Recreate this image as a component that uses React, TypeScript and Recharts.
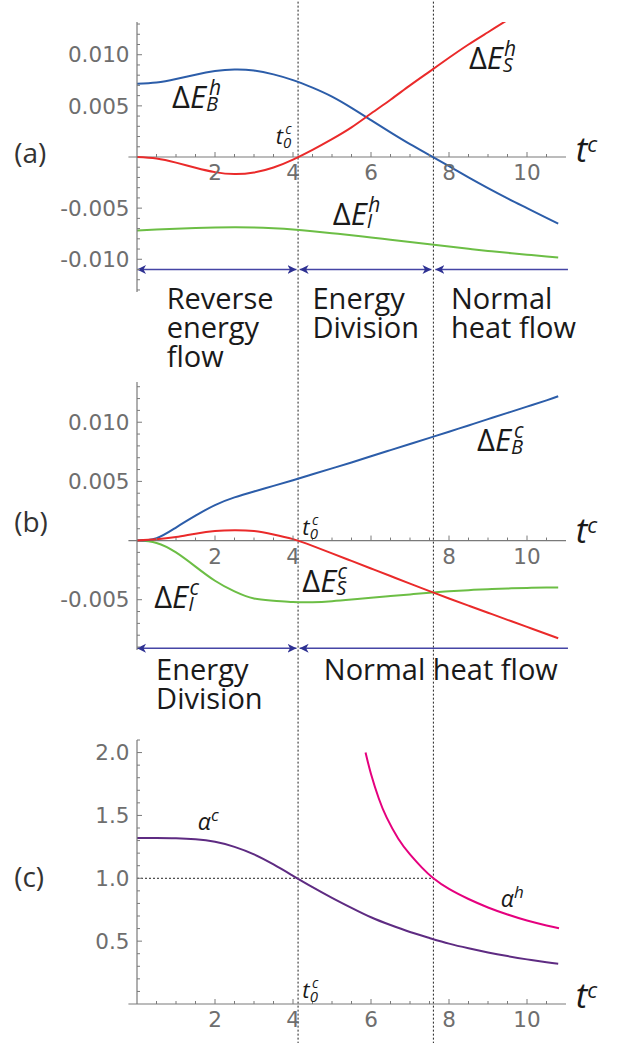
import React from 'react';
import { LineChart, Line, XAxis, YAxis, ReferenceLine, ReferenceDot } from 'recharts';

// shared time samples (t^c)
const tGrid = [0, 0.5, 1, 1.5, 2, 2.5, 3, 3.5, 4, 4.5, 5, 5.5, 6, 6.5, 7, 7.5, 8, 8.5, 9, 9.5, 10, 10.5, 10.8];

// (a) hot-side energy changes
const aEB = [0.00716, 0.00728, 0.00762, 0.00805, 0.0084, 0.00856, 0.00846, 0.00808, 0.00752, 0.00678, 0.0059, 0.0048, 0.0036, 0.0024, 0.00125, 0.00018, -0.0009, -0.002, -0.00305, -0.00405, -0.005, -0.00595, -0.00652];
const aES = [0, -0.00015, -0.00055, -0.00105, -0.00148, -0.00167, -0.00152, -0.00103, -0.00025, 0.0007, 0.00175, 0.0029, 0.00425, 0.0056, 0.007, 0.00835, 0.0097, 0.011, 0.0122, 0.0134, 0.0146, 0.0158, 0.0165];
const aEI = [-0.0072, -0.0071, -0.00702, -0.00695, -0.0069, -0.00688, -0.0069, -0.00697, -0.00708, -0.00725, -0.00745, -0.00765, -0.00787, -0.00808, -0.0083, -0.00853, -0.00876, -0.00897, -0.00918, -0.00937, -0.00955, -0.00972, -0.00982];

// (b) cold-side energy changes
const bEB = [0, 0.0002, 0.0011, 0.0021, 0.003, 0.00365, 0.00415, 0.00462, 0.0051, 0.0056, 0.0061, 0.0066, 0.00712, 0.00764, 0.00816, 0.00868, 0.0092, 0.00973, 0.01026, 0.01079, 0.01132, 0.01185, 0.0122];
const bES = [0, 0.0001, 0.0003, 0.00058, 0.0008, 0.00087, 0.0008, 0.00052, 0.00012, -0.00045, -0.00108, -0.00172, -0.00236, -0.003, -0.00364, -0.00427, -0.0049, -0.0055, -0.0061, -0.0067, -0.0073, -0.0079, -0.00826];
const bEI = [0, -0.0002, -0.001, -0.0022, -0.0034, -0.0043, -0.0049, -0.00508, -0.0052, -0.00521, -0.00512, -0.00498, -0.00483, -0.00469, -0.00455, -0.00441, -0.00429, -0.00419, -0.00411, -0.00405, -0.004, -0.00397, -0.00396];

// (c) alpha
const cAlphaC = [1.32, 1.32, 1.318, 1.31, 1.29, 1.25, 1.19, 1.11, 1.02, 0.93, 0.845, 0.765, 0.69, 0.628, 0.573, 0.525, 0.48, 0.443, 0.41, 0.381, 0.355, 0.332, 0.32];
const tAlphaH = [5.86, 6, 6.2, 6.4, 6.7, 7, 7.3, 7.6, 8, 8.5, 9, 9.5, 10, 10.5, 10.82];
const cAlphaH = [2.0, 1.83, 1.635, 1.485, 1.315, 1.19, 1.087, 1.0, 0.915, 0.835, 0.768, 0.712, 0.664, 0.625, 0.603];

// marker times
const t0c = 4.13;
const t0h = 7.6;

// axis ticks
const xMinor = [0.5, 1, 1.5, 2, 2.5, 3, 3.5, 4, 4.5, 5, 5.5, 6, 6.5, 7, 7.5, 8, 8.5, 9, 9.5, 10, 10.5];
const xMajor = [2, 4, 6, 8, 10];
const xLabelsA = ['2', '4', '6', '8', '10'];
const xLabelsB = ['2', '4', '', '8', '10'];
const xLabelsC = ['2', '4', '6', '8', '10'];
const yTicksA = [-0.013, -0.012, -0.011, -0.01, -0.009, -0.008, -0.007, -0.006, -0.005, -0.004, -0.003, -0.002, -0.001, 0.001, 0.002, 0.003, 0.004, 0.005, 0.006, 0.007, 0.008, 0.009, 0.01, 0.011, 0.012, 0.013];
const yTicksB = [-0.009, -0.008, -0.007, -0.006, -0.005, -0.004, -0.003, -0.002, -0.001, 0.001, 0.002, 0.003, 0.004, 0.005, 0.006, 0.007, 0.008, 0.009, 0.01, 0.011, 0.012, 0.013];
const yTicksC = [0.1, 0.2, 0.3, 0.4, 0.5, 0.6, 0.7, 0.8, 0.9, 1.0, 1.1, 1.2, 1.3, 1.4, 1.5, 1.6, 1.7, 1.8, 1.9, 2.0, 2.1];
const yLabelsAB = [-0.01, -0.005, 0.005, 0.01];
const yLabelsC = [0.5, 1.0, 1.5, 2.0];

const zip = (ts: number[], vs: number[]) => ts.map((t, i) => ({ t, v: vs[i] }));

const AXIS = '#7a7a7a';
const TICK_TXT = '#6e6e6e';
const INK = '#1a1a1a';
const SANS = "'Open Sans', 'Noto Sans', sans-serif";
const NUM = "'DejaVu Sans', sans-serif";
const BLUE = '#2c5da9';
const RED = '#ea2a2a';
const GREEN = '#6cbe45';
const PURPLE = '#5e2b82';
const MAGENTA = '#e5007e';
const ARROW = '#2e3192';
const NUM_SIZE = 21.5;

const yTick = (labels: number[], digits: number) => (p: any) => {
  const v = p.payload.value;
  const major = labels.some((l) => Math.abs(l - v) < 1e-9);
  return (
    <g>
      <line x1={p.x} y1={p.y} x2={p.x + (major ? 5 : 3)} y2={p.y} stroke={AXIS} strokeWidth={1} />
      {major && (
        <text x={p.x - 7.5} y={p.y} dy="0.36em" textAnchor="end" fontFamily={NUM} fontSize={NUM_SIZE} fill={TICK_TXT}>
          {v.toFixed(digits)}
        </text>
      )}
    </g>
  );
};

const xTicks = (labels: string[], k: string) => [
  <ReferenceLine key={k + 'axis'} segment={[{ x: -0.22, y: 0 }, { x: 11, y: 0 }]} stroke={AXIS} strokeWidth={1.2} ifOverflow="visible" />,
  ...xMinor.map((t) => {
    const mi = xMajor.indexOf(t);
    return (
      <ReferenceDot
        key={k + 'xt' + t}
        x={t}
        y={0}
        r={0}
        ifOverflow="visible"
        shape={(p: any) => (
          <g>
            <line x1={p.cx} y1={p.cy} x2={p.cx} y2={p.cy - (mi >= 0 ? 5 : 3)} stroke={AXIS} strokeWidth={1} />
            {mi >= 0 && labels[mi] && (
              <text x={p.cx} y={p.cy + 23} textAnchor="middle" fontFamily={NUM} fontSize={NUM_SIZE} fill={TICK_TXT}>
                {labels[mi]}
              </text>
            )}
          </g>
        )}
      />
    );
  }),
];

const note = (x: number, y: number, k: string, draw: (cx: number, cy: number) => React.ReactElement) => (
  <ReferenceDot key={k} x={x} y={y} r={0} ifOverflow="visible" shape={(p: any) => draw(p.cx, p.cy)} />
);

const deltaE = (x: number, y: number, sub: string, sup: string, k: string, supDx = -9) =>
  note(x, y, k, (cx, cy) => (
    <text x={cx} y={cy} fontFamily={SANS} fontSize={31} fill={INK}>
      <tspan>Δ</tspan>
      <tspan fontStyle="italic">E</tspan>
      <tspan fontStyle="italic" fontSize={20} dy={3}>{sub}</tspan>
      <tspan fontStyle="italic" fontSize={21} dx={supDx} dy={-16}>{sup}</tspan>
    </text>
  ));

const tZero = (x: number, y: number, k: string) =>
  note(x, y, k, (cx, cy) => (
    <text x={cx} y={cy} fontFamily={SANS} fontSize={22} fontStyle="italic" fill={INK}>
      <tspan>t</tspan>
      <tspan fontSize={15} dy={4}>0</tspan>
      <tspan fontSize={14} dx={-6} dy={-14}>c</tspan>
    </text>
  ));

const tAxis = (x: number, y: number, k: string) =>
  note(x, y, k, (cx, cy) => (
    <text x={cx} y={cy} fontFamily={SANS} fontSize={35} fontStyle="italic" fill={INK}>
      <tspan>t</tspan>
      <tspan fontSize={22} dy={-10}>c</tspan>
    </text>
  ));

const alpha = (x: number, y: number, sup: string, k: string) =>
  note(x, y, k, (cx, cy) => (
    <text x={cx} y={cy} fontFamily={SANS} fontSize={23} fontStyle="italic" fill={INK}>
      <tspan>α</tspan>
      <tspan fontSize={17} dy={-9}>{sup}</tspan>
    </text>
  ));

const panelTag = (x: number, y: number, s: string, k: string) =>
  note(x, y, k, (cx, cy) => (
    <text x={cx} y={cy} fontFamily={SANS} fontSize={28} fill="#333">
      {s}
    </text>
  ));

const block = (x: number, y: number, lines: string[], k: string) =>
  note(x, y, k, (cx, cy) => (
    <text x={cx} y={cy} fontFamily={SANS} fontSize={29} fill={INK}>
      {lines.map((s, i) => (
        <tspan key={i} x={cx} dy={i === 0 ? 0 : 29}>
          {s}
        </tspan>
      ))}
    </text>
  ));

const arrow = (x1: number, x2: number, y: number, both: boolean, k: string) => (
  <ReferenceLine
    key={k}
    segment={[{ x: x1, y }, { x: x2, y }]}
    ifOverflow="visible"
    shape={(p: any) => (
      <line
        x1={p.x1}
        y1={p.y1}
        x2={p.x2}
        y2={p.y2}
        stroke="#4545a5"
        strokeWidth={1.5}
        markerStart="url(#arrowHead)"
        markerEnd={both ? 'url(#arrowHead)' : undefined}
      />
    )}
  />
);

const arrowDefs = (
  <defs>
    <marker id="arrowHead" viewBox="0 -5 10 10" refX={9} refY={0} markerWidth={10} markerHeight={10} markerUnits="userSpaceOnUse" orient="auto-start-reverse">
      <path d="M0,-4.5 L9,0 L0,4.5 L2.5,0 Z" fill={ARROW} />
    </marker>
  </defs>
);

const series = (ts: number[], vs: number[], color: string, k: string) => (
  <Line key={k} data={zip(ts, vs)} dataKey="v" type="natural" stroke={color} strokeWidth={2} dot={false} isAnimationActive={false} />
);

const dotted = { stroke: '#222', strokeWidth: 1, strokeDasharray: '2 2' };

const App: React.FC = () => {
  return (
    <div style={{ position: 'relative', width: 628, height: 1043, overflow: 'hidden', background: '#fff' }}>
      <style>{`body{margin:0} .recharts-surface{overflow:visible}`}</style>

      {/* (a) */}
      <div style={{ position: 'absolute', left: 0, top: 0 }}>
        <LineChart width={628} height={370} margin={{ top: 22, right: 62, bottom: 78, left: 0 }}>
          {arrowDefs}
          <XAxis type="number" dataKey="t" domain={[0, 11]} hide allowDataOverflow />
          <YAxis type="number" domain={[-0.0132, 0.0132]} allowDataOverflow width={137} ticks={yTicksA} interval={0} tickSize={0} tickMargin={0} tickLine={false} axisLine={{ stroke: AXIS, strokeWidth: 1.2 }} tick={yTick(yLabelsAB, 3)} />
          {xTicks(xLabelsA, 'a')}
          <ReferenceLine segment={[{ x: t0c, y: 0.05 }, { x: t0c, y: -0.2 }]} ifOverflow="visible" {...dotted} />
          <ReferenceLine segment={[{ x: t0h, y: 0.05 }, { x: t0h, y: -0.2 }]} ifOverflow="visible" {...dotted} />
          {series(tGrid, aEI, GREEN, 'aI')}
          {series(tGrid, aEB, BLUE, 'aB')}
          {series(tGrid, aES, RED, 'aS')}
          {arrow(0, 4.09, -0.011, true, 'a1')}
          {arrow(4.17, 7.55, -0.011, true, 'a2')}
          {arrow(7.65, 11.05, -0.011, false, 'a3')}
          {deltaE(0.9, 0.00483, 'B', 'h', 'lbB')}
          {deltaE(8.51, 0.00856, 'S', 'h', 'lbS')}
          {deltaE(5.02, -0.00664, 'I', 'h', 'lbI', -4)}
          {tZero(3.56, 0.00127, 't0a')}
          {tAxis(11.25, -0.00046, 'tca')}
          {panelTag(-3.15, -0.00056, '(a)', 'pa')}
          {block(0.76, -0.01487, ['Reverse', 'energy', 'flow'], 'r1')}
          {block(4.5, -0.01487, ['Energy', 'Division'], 'r2')}
          {block(8.05, -0.01487, ['Normal', 'heat flow'], 'r3')}
        </LineChart>
      </div>

      {/* (b) */}
      <div style={{ position: 'absolute', left: 0, top: 370 }}>
        <LineChart width={628} height={330} margin={{ top: 12, right: 62, bottom: 50, left: 0 }}>
          {arrowDefs}
          <XAxis type="number" dataKey="t" domain={[0, 11]} hide allowDataOverflow />
          <YAxis type="number" domain={[-0.00925, 0.0134]} allowDataOverflow width={137} ticks={yTicksB} interval={0} tickSize={0} tickMargin={0} tickLine={false} axisLine={{ stroke: AXIS, strokeWidth: 1.2 }} tick={yTick(yLabelsAB, 3)} />
          {xTicks(xLabelsB, 'b')}
          {series(tGrid, bEI, GREEN, 'bI')}
          {series(tGrid, bEB, BLUE, 'bB')}
          {series(tGrid, bES, RED, 'bS')}
          {arrow(0, 4.09, -0.0091, true, 'b1')}
          {arrow(4.17, 11.05, -0.0091, false, 'b2')}
          {deltaE(8.72, 0.00761, 'B', 'c', 'lcB')}
          {deltaE(4.24, -0.00433, 'S', 'c', 'lcS')}
          {deltaE(0.44, -0.0057, 'I', 'c', 'lcI', -4)}
          {tZero(4.24, 0.00045, 't0b')}
          {tAxis(11.25, -0.00023, 'tcb')}
          {panelTag(-3.15, 0.00073, '(b)', 'pb')}
          {block(0.49, -0.01178, ['Energy', 'Division'], 's1')}
          {block(4.79, -0.01178, ['Normal heat flow'], 's2')}
        </LineChart>
      </div>

      {/* (c) */}
      <div style={{ position: 'absolute', left: 0, top: 700 }}>
        <LineChart width={628} height={343} margin={{ top: 40, right: 62, bottom: 39, left: 0 }}>
          <XAxis type="number" dataKey="t" domain={[0, 11]} hide allowDataOverflow />
          <YAxis type="number" domain={[0, 2.1]} allowDataOverflow width={137} ticks={yTicksC} interval={0} tickSize={0} tickMargin={0} tickLine={false} axisLine={{ stroke: AXIS, strokeWidth: 1.2 }} tick={yTick(yLabelsC, 1)} />
          {xTicks(xLabelsC, 'c')}
          <ReferenceLine segment={[{ x: 0, y: 1 }, { x: t0h, y: 1 }]} ifOverflow="visible" {...dotted} />
          {series(tGrid, cAlphaC, PURPLE, 'cC')}
          {series(tAlphaH, cAlphaH, MAGENTA, 'cH')}
          {alpha(1.56, 1.383, 'c', 'alc')}
          {alpha(9.33, 0.775, 'h', 'alh')}
          {tZero(4.24, 0.05, 't0c')}
          {tAxis(11.25, -0.03, 'tcc')}
          {panelTag(-3.15, 0.933, '(c)', 'pc')}
        </LineChart>
      </div>
    </div>
  );
};

export default App;
